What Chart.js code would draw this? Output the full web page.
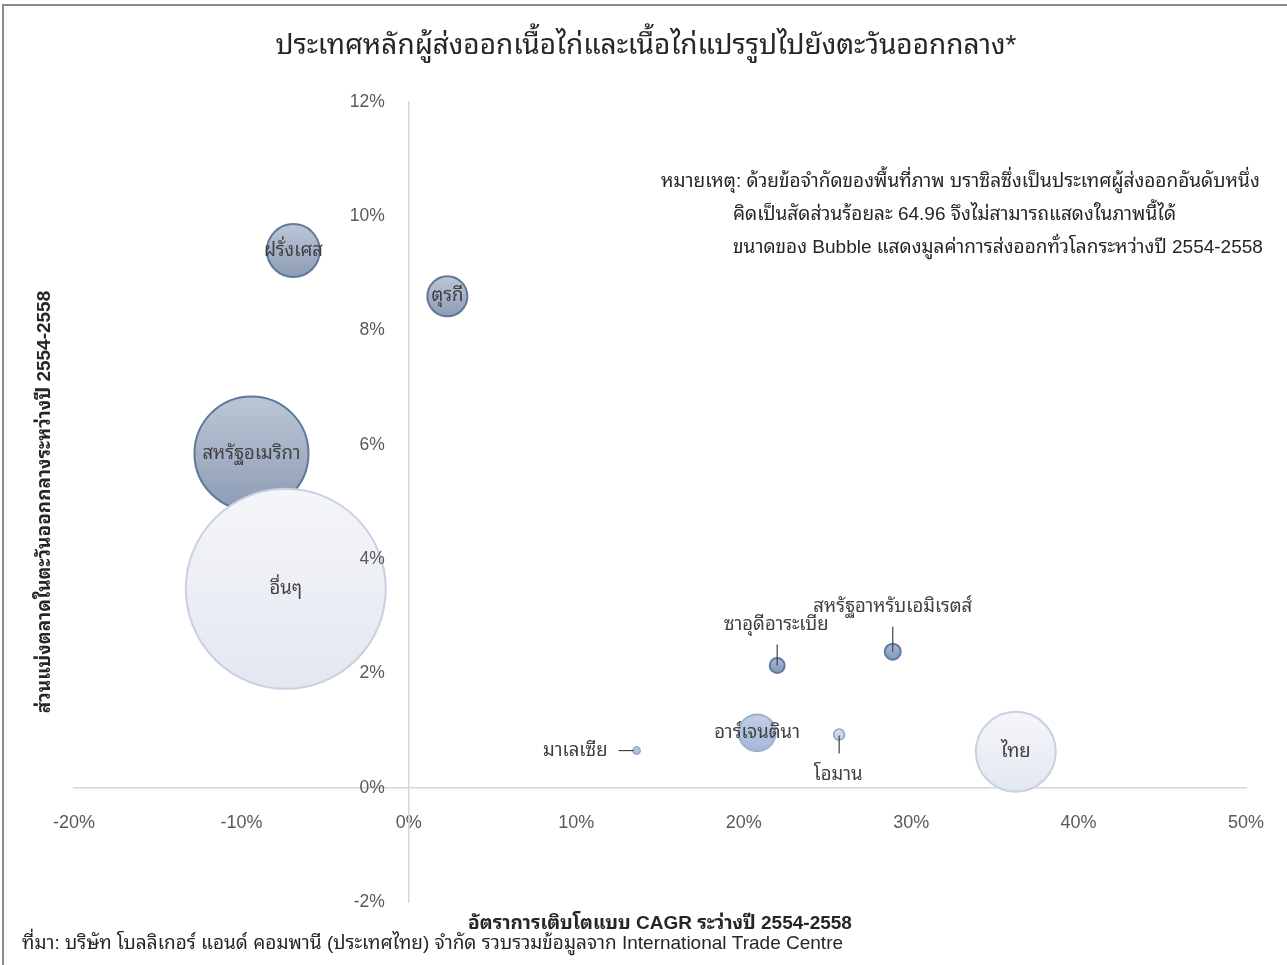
<!DOCTYPE html>
<html>
<head>
<meta charset="utf-8">
<script src="https://cdn.jsdelivr.net/npm/chart.js@4.4.1/dist/chart.umd.min.js"></script>
<style>
html,body{margin:0;padding:0;background:#fff;overflow:hidden;}
#frame{position:absolute;left:2px;top:4px;width:1300px;height:980px;border-top:2px solid #8c8c8c;border-left:2px solid #8c8c8c;}
#bubble{position:absolute;left:0;top:0;}
</style>
</head>
<body>
<div id="frame"></div>
<canvas id="bubble" width="1287" height="965"></canvas>
<script>
// ข้อมูลจากภาพ (x = CAGR %, y = ส่วนแบ่งตลาด %, ขนาด = มูลค่าส่งออก แบบสัมพัทธ์)
var countries = ['ฝรั่งเศส','ตุรกี','สหรัฐอเมริกา','อื่นๆ','ซาอุดีอาระเบีย','สหรัฐอาหรับเอมิเรตส์','อาร์เจนตินา','โอมาน','มาเลเซีย','ไทย'];
var cagr = [-6.9, 2.3, -9.4, -7.35, 22.0, 28.9, 20.8, 25.7, 13.6, 36.25];
var share = [9.4, 8.6, 5.85, 3.48, 2.14, 2.38, 0.96, 0.93, 0.65, 0.63];
var exportValue = [7.0, 4.0, 32.5, 100, 0.56, 0.64, 3.4, 0.30, 0.12, 16];
var xTicks = [-20, -10, 0, 10, 20, 30, 40, 50];
var yTicks = [-2, 0, 2, 4, 6, 8, 10, 12];

var chartTitle = 'ประเทศหลักผู้ส่งออกเนื้อไก่และเนื้อไก่แปรรูปไปยังตะวันออกกลาง*';
var xTitle = 'อัตราการเติบโตแบบ CAGR ระว่างปี 2554-2558';
var yTitle = 'ส่วนแบ่งตลาดในตะวันออกกลางระหว่างปี 2554-2558';
var noteLines = [
	'หมายเหตุ: ด้วยข้อจำกัดของพื้นที่ภาพ บราซิลซึ่งเป็นประเทศผู้ส่งออกอันดับหนึ่ง',
	'คิดเป็นสัดส่วนร้อยละ 64.96 จึงไม่สามารถแสดงในภาพนี้ได้',
	'ขนาดของ Bubble แสดงมูลค่าการส่งออกทั่วโลกระหว่างปี 2554-2558'
];
var sourceText = 'ที่มา: บริษัท โบลลิเกอร์ แอนด์ คอมพานี (ประเทศไทย) จำกัด รวบรวมข้อมูลจาก International Trade Centre';

var FONT = '"Liberation Sans", Arial, "Noto Sans Thai Looped", Loma, Garuda, Tahoma, sans-serif';
var MAX_R = 100;
var maxValue = Math.max.apply(null, exportValue);
function radiusOf(v){ return MAX_R * Math.sqrt(v / maxValue); }

// สีของแต่ละกลุ่ม
var styles = {
	dark: {top:'#bcc6d6', bottom:'#8d9cb5', border:'#5f7799', width:2},
	mid: {top:'#a9b8d2', bottom:'#8397bb', border:'#5f7aa3', width:2},
	blue: {top:'#c2cfe6', bottom:'#a4b8d9', border:'#9cb0d1', width:2},
	light: {top:'#d8e0ee', bottom:'#bfcae0', border:'#8fa3c7', width:1.5},
	pale: {top:'#f5f6f9', bottom:'#e3e7f0', border:'#c8d0e1', width:2}
};
var styleOf = {
	'ฝรั่งเศส':'dark','ตุรกี':'dark','สหรัฐอเมริกา':'dark','อื่นๆ':'pale',
	'ซาอุดีอาระเบีย':'mid','สหรัฐอาหรับเอมิเรตส์':'mid','อาร์เจนตินา':'blue',
	'โอมาน':'light','มาเลเซีย':'blue','ไทย':'pale'
};
// ตำแหน่งป้ายชื่อ (offset เป็น px จากจุดศูนย์กลาง bubble)
var labelPlace = {
	'ซาอุดีอาระเบีย': {dx:-1, dy:-41, line:[0,-21,0,0]},
	'สหรัฐอาหรับเอมิเรตส์': {dx:0, dy:-45, line:[0,-25,0,0]},
	'โอมาน': {dx:-1, dy:40, line:[0,1,0,19]},
	'มาเลเซีย': {dx:-29, dy:0, align:'right', line:[-18,0,-3,0]}
};

var points = countries.map(function(n, i){
	return {x: cagr[i], y: share[i], r: radiusOf(exportValue[i])};
});

function pointStyle(c){
	return styles[styleOf[countries[c.dataIndex]]] || styles.dark;
}

var annotate = {
	id: 'annotate',
	afterDatasetsDraw: function(chart){
		var ctx = chart.ctx, xs = chart.scales.x, ys = chart.scales.y;
		ctx.save();
		// ป้ายแกน y วางทางซ้ายของเส้น x = 0
		ctx.font = '17.5px ' + FONT;
		ctx.fillStyle = '#595959';
		ctx.textAlign = 'right';
		ctx.textBaseline = 'middle';
		var x0 = xs.getPixelForValue(0);
		ys.ticks.forEach(function(t){
			ctx.fillText(t.value + '%', x0 - 24, ys.getPixelForValue(t.value));
		});
		// ชื่อประเทศ
		ctx.font = '18.5px ' + FONT;
		ctx.fillStyle = '#404040';
		ctx.strokeStyle = '#404040';
		ctx.lineWidth = 1.2;
		for(var i=0;i<countries.length;i++){
			var px = xs.getPixelForValue(cagr[i]);
			var py = ys.getPixelForValue(share[i]);
			var p = labelPlace[countries[i]] || {dx:0, dy:0};
			ctx.textAlign = p.align || 'center';
			ctx.fillText(countries[i], px + p.dx, py + p.dy);
			if(p.line){
				ctx.beginPath();
				ctx.moveTo(px + p.line[0], py + p.line[1]);
				ctx.lineTo(px + p.line[2], py + p.line[3]);
				ctx.stroke();
			}
		}
		ctx.restore();
	},
	afterDraw: function(chart){
		var ctx = chart.ctx, area = chart.chartArea;
		ctx.save();
		ctx.textBaseline = 'middle';
		// ชื่อกราฟ
		ctx.fillStyle = '#262626';
		ctx.textAlign = 'center';
		ctx.font = '28px ' + FONT;
		ctx.fillText(chartTitle, 646, 46);
		// หมายเหตุ
		ctx.font = '19px ' + FONT;
		ctx.textAlign = 'left';
		ctx.fillText(noteLines[0], 661, 182);
		ctx.fillText(noteLines[1], 733, 215);
		ctx.fillText(noteLines[2], 733, 248);
		// ชื่อแกน
		ctx.font = 'bold 19px ' + FONT;
		ctx.textAlign = 'center';
		ctx.fillText(xTitle, (area.left + area.right) / 2, 924);
		ctx.save();
		ctx.translate(45, (area.top + area.bottom) / 2);
		ctx.rotate(-Math.PI / 2);
		ctx.fillText(yTitle, 0, 0);
		ctx.restore();
		// ที่มา
		ctx.font = '19px ' + FONT;
		ctx.textAlign = 'left';
		ctx.fillText(sourceText, 22, 944);
		ctx.restore();
	}
};

// แกนวางตัดกันที่ 0 ไม่ให้กินพื้นที่ layout
function noSpace(s){
	s.width = s.isHorizontal() ? s.width : 0;
	s.height = s.isHorizontal() ? 0 : s.height;
	s.paddingLeft = s.paddingRight = s.paddingTop = s.paddingBottom = 0;
}

function axisOpts(tickList, showTicks){
	return {
		type: 'linear',
		min: tickList[0],
		max: tickList[tickList.length - 1],
		grid: {display: false, drawTicks: false},
		border: {display: true, color: '#d6d6d6', width: 1.5},
		afterBuildTicks: function(s){ s.ticks = tickList.map(function(v){ return {value: v}; }); },
		afterFit: noSpace,
		ticks: {
			display: showTicks,
			padding: 25,
			color: '#595959',
			font: {family: FONT, size: 18},
			callback: function(v){ return v + '%'; }
		}
	};
}

var xAxis = axisOpts(xTicks, true);
xAxis.position = {y: 0};
var yAxis = axisOpts(yTicks, false);
yAxis.position = {x: 0};

new Chart(document.getElementById('bubble').getContext('2d'), {
	type: 'bubble',
	data: {
		datasets: [{
			data: points,
			backgroundColor: function(c){
				var st = pointStyle(c);
				var chart = c.chart;
				if(c.dataIndex == null || !chart.chartArea) return st.bottom;
				var y = chart.scales.y.getPixelForValue(share[c.dataIndex]);
				var r = radiusOf(exportValue[c.dataIndex]);
				var g = chart.ctx.createLinearGradient(0, y - r, 0, y + r);
				g.addColorStop(0, st.top);
				g.addColorStop(1, st.bottom);
				return g;
			},
			borderColor: function(c){ return pointStyle(c).border; },
			borderWidth: function(c){ return pointStyle(c).width; }
		}]
	},
	options: {
		responsive: false,
		animation: false,
		events: [],
		layout: {autoPadding: false, padding: {left: 74, right: 41, top: 102, bottom: 63}},
		plugins: {legend: {display: false}, tooltip: {enabled: false}, title: {display: false}},
		scales: {x: xAxis, y: yAxis}
	},
	plugins: [annotate]
});
</script>
</body>
</html>
